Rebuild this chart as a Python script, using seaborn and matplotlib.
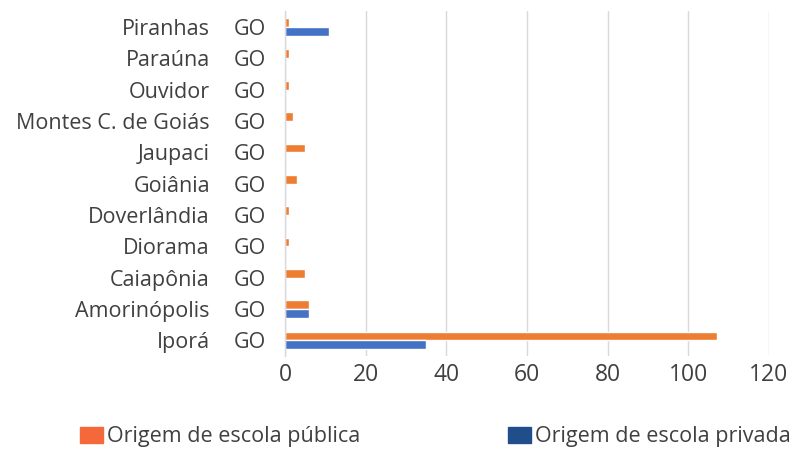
import matplotlib
matplotlib.use("Agg")
import matplotlib.pyplot as plt
import matplotlib.patches as mpatches
import seaborn as sns
import pandas as pd

cities = ["Piranhas", "Paraúna", "Ouvidor", "Montes C. de Goiás", "Jaupaci",
          "Goiânia", "Doverlândia", "Diorama", "Caiapônia", "Amorinópolis", "Iporá"]
states = ["GO"] * len(cities)
publica = [1, 1, 1, 2, 5, 3, 1, 1, 5, 6, 107]
privada = [11, 0, 0, 0, 0, 0, 0, 0, 0, 6, 35]
series_names = ["Origem de escola pública", "Origem de escola privada"]
x_ticks = [0, 20, 40, 60, 80, 100, 120]

bar_colors = ["#ED7D31", "#4472C4"]
legend_colors = ["#F4683A", "#1F4E8A"]
text_color = "#404040"
fs = 15.5

df = pd.DataFrame({
    "cidade": cities * 2,
    "valor": publica + privada,
    "origem": [series_names[0]] * len(cities) + [series_names[1]] * len(cities),
})

sns.set_theme(style="white")
plt.rcParams["font.family"] = ["Open Sans", "DejaVu Sans"]

fig = plt.figure(figsize=(8.01, 4.49), dpi=100)
ax = fig.add_axes([0.3558, 0.207, 0.6042, 0.768])

sns.barplot(data=df, y="cidade", x="valor", hue="origem", order=cities,
            hue_order=series_names, palette=bar_colors, orient="h",
            width=0.56, saturation=1, ax=ax, legend=False)

ax.set_xlim(0, 120)
ax.set_xticks(x_ticks)
ax.set_xticklabels([str(t) for t in x_ticks])
ax.set_xlabel("")
ax.set_ylabel("")
ax.grid(axis="x", color="#D9D9D9", linewidth=1)
ax.grid(axis="y", visible=False)
ax.set_axisbelow(True)
for side in ["top", "right", "bottom"]:
    ax.spines[side].set_visible(False)
ax.spines["left"].set_color("#D9D9D9")
ax.spines["left"].set_linewidth(1)
ax.tick_params(axis="both", length=0, colors=text_color)
ax.tick_params(axis="y", pad=54, labelsize=fs)
ax.tick_params(axis="x", pad=5, labelsize=16.5)

# state column next to the city names
ytrans = ax.get_yaxis_transform()
for i, st in enumerate(states):
    ax.text(-0.072, i, st, transform=ytrans, ha="center", va="center_baseline",
            fontsize=fs, color=text_color)

# one legend entry per series, placed independently
for name, col, x0 in zip(series_names, legend_colors, [0.0999, 0.634]):
    fig.legend([mpatches.Patch(color=col)], [name], loc="center left",
               bbox_to_anchor=(x0, 0.027), frameon=False, fontsize=fs,
               handlelength=1.07, handleheight=0.75, handletextpad=0.2,
               borderpad=0, borderaxespad=0, labelcolor=text_color)

fig.savefig("out.png", dpi=100)
